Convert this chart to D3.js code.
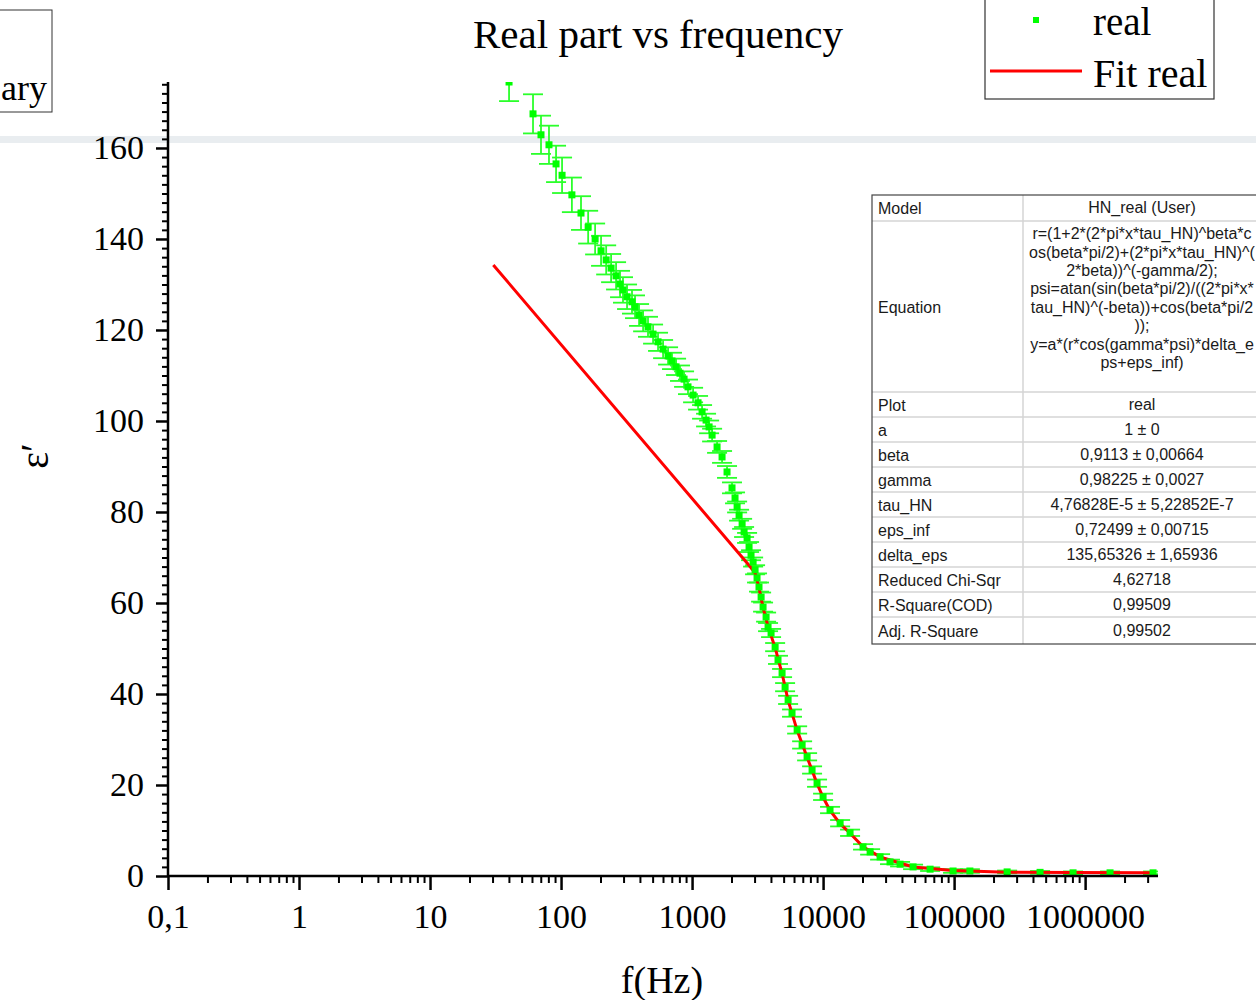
<!DOCTYPE html>
<html>
<head>
<meta charset="utf-8">
<script src="https://cdn.jsdelivr.net/npm/d3@7"></script>
<style>
  body { margin: 0; background: #fff; }
  svg { display: block; }
  .serif { font-family: "Liberation Serif", "Times New Roman", serif; }
  .sans { font-family: "Liberation Sans", Arial, sans-serif; }
</style>
</head>
<body>
<svg id="chart" width="1256" height="1000"></svg>
<script>
// measured data (f in Hz, eps' and its error)
const freqs = [40.1, 61.1, 70.3, 80.9, 91.6, 101.8, 121, 142, 161, 182, 202, 221, 241, 263, 282, 297, 319, 348, 367, 394,
  423, 461, 504, 550, 601, 656, 703, 755, 809, 869, 931, 1018, 1111, 1192, 1279, 1349, 1422, 1552, 1694, 1849,
  2018, 2128, 2207, 2285, 2410, 2495, 2630, 2723, 2819, 2924, 3027, 3133, 3243, 3365, 3483, 3673, 3802, 4009, 4305, 4529,
  4864, 5129, 5408, 5794, 6339, 6918, 7551, 8241, 8995, 10000, 11300, 13490, 16070, 20180, 22860, 27230, 32430, 38700, 48640, 65600,
  98200, 132000, 254000, 453000, 809000, 1550000, 3300000];
const realVals = [174.5, 167.5, 162.9, 160.7, 156.5, 154.0, 149.7, 145.7, 142.6, 140.0, 137.4, 135.4, 133.6, 131.9, 130.1, 128.8, 127.3, 126.2, 125.1, 123.3,
  122.0, 120.7, 119.1, 117.4, 115.8, 114.3, 113.2, 111.9, 110.5, 109.2, 107.5, 105.7, 104.0, 102.0, 100.2, 98.7, 96.9, 94.3, 92.1, 88.8,
  85.3, 83.1, 81.1, 79.3, 77.4, 75.6, 74.3, 72.3, 70.5, 69.0, 67.3, 65.5, 63.5, 61.3, 59.1, 56.9, 54.7, 53.4, 50.3, 47.5,
  44.6, 41.5, 38.7, 35.8, 32.1, 28.8, 26.2, 23.3, 20.4, 17.4, 14.5, 11.6, 9.5, 6.4, 5.3, 4.2, 3.1, 2.6, 2.0, 1.5,
  1.1, 1.1, 0.9, 0.8, 0.7, 0.7, 0.7];
const realErrs = [4.2, 4.3, 4.2, 4.2, 4.0, 3.9, 3.8, 3.7, 3.6, 3.4, 3.3, 3.2, 3.1, 3.0, 2.9, 2.8, 2.7, 2.6, 2.5, 2.4,
  2.3, 2.2, 2.1, 2.0, 2.0, 1.9, 1.8, 1.8, 1.7, 1.7, 1.6, 1.6, 1.5, 1.5, 1.4, 1.4, 1.4, 1.3, 1.3, 1.3,
  1.2, 1.2, 1.2, 1.2, 1.1, 1.1, 1.1, 1.1, 1.1, 1.0, 1.0, 1.0, 1.0, 1.0, 1.0, 1.0, 0.9, 0.9, 0.9, 0.9,
  0.9, 0.9, 0.9, 0.8, 0.8, 0.8, 0.8, 0.8, 0.8, 0.7, 0.7, 0.7, 0.7, 0.6, 0.6, 0.6, 0.5, 0.5, 0.5, 0.4,
  0.4, 0.4, 0.3, 0.3, 0.3, 0.3, 0.3];

// fit curve as drawn
const fitFreqs = [30.4, 2790, 3027, 3243, 3483, 3802, 4305, 4864, 5408, 6339, 7551, 8995, 10000, 11300, 13490, 16070,
  20180, 27230, 48640, 98200, 254000, 809000, 3300000];
const fitVals = [134.3, 67.9, 66.6, 63.3, 59.0, 54.8, 50.2, 44.5, 38.6, 32.0, 26.1, 20.3, 17.3, 14.4, 11.5, 9.4,
  6.4, 4.2, 2.0, 1.2, 0.85, 0.75, 0.73];

const xMajorTicks = [0.1, 1, 10, 100, 1000, 10000, 100000, 1000000];
const yMajorTicks = [0, 20, 40, 60, 80, 100, 120, 140, 160];

const tableRows = [
  ['Model', ['HN_real (User)']],
  ['Equation', ['r=(1+2*(2*pi*x*tau_HN)^beta*c', 'os(beta*pi/2)+(2*pi*x*tau_HN)^(', '2*beta))^(-gamma/2);',
    'psi=atan(sin(beta*pi/2)/((2*pi*x*', 'tau_HN)^(-beta))+cos(beta*pi/2', '));',
    'y=a*(r*cos(gamma*psi)*delta_e', 'ps+eps_inf)']],
  ['Plot', ['real']],
  ['a', ['1 ± 0']],
  ['beta', ['0,9113 ± 0,00664']],
  ['gamma', ['0,98225 ± 0,0027']],
  ['tau_HN', ['4,76828E-5 ± 5,22852E-7']],
  ['eps_inf', ['0,72499 ± 0,00715']],
  ['delta_eps', ['135,65326 ± 1,65936']],
  ['Reduced Chi-Sqr', ['4,62718']],
  ['R-Square(COD)', ['0,99509']],
  ['Adj. R-Square', ['0,99502']]
];

const svg = d3.select('#chart');
const green = '#00ff00';

const x = d3.scaleLog().domain([0.1, 3.6e6]).range([168, 1158]);
const y = d3.scaleLinear().domain([0, 174.5]).range([876, 82]);

// grey strip across the page
svg.append('rect').attr('x', 0).attr('y', 136).attr('width', 1256).attr('height', 7).attr('fill', '#e9edf0');

// clipping for data
svg.append('clipPath').attr('id', 'plotClip')
  .append('rect').attr('x', 168).attr('y', 82).attr('width', 1158 - 168).attr('height', 876 - 82);

const data = freqs.map((f, i) => ({ f, v: realVals[i], e: realErrs[i] }));
const plot = svg.append('g').attr('clip-path', 'url(#plotClip)');

// error bars
const cap = 10;
const eb = plot.append('g').attr('stroke', '#2bff2b').attr('stroke-width', 1.8).attr('fill', 'none');
data.forEach(d => {
  const cx = x(d.f), y1 = y(d.v + d.e), y2 = y(d.v - d.e);
  eb.append('line').attr('x1', cx).attr('x2', cx).attr('y1', y1).attr('y2', y2);
  eb.append('line').attr('x1', cx - cap).attr('x2', cx + cap).attr('y1', y1).attr('y2', y1);
  eb.append('line').attr('x1', cx - cap).attr('x2', cx + cap).attr('y1', y2).attr('y2', y2);
});

// fit line
const fitData = fitFreqs.map((f, i) => ({ f, v: fitVals[i] }));
plot.append('path')
  .datum(fitData)
  .attr('fill', 'none')
  .attr('stroke', '#ff0000')
  .attr('stroke-width', 3)
  .attr('d', d3.line().x(d => x(d.f)).y(d => y(d.v)));

// markers
plot.append('g').selectAll('rect').data(data).join('rect')
  .attr('x', d => x(d.f) - 3.5).attr('y', d => y(d.v) - 3.5)
  .attr('width', 7).attr('height', 7)
  .attr('fill', green);

// x axis
const minorX = [];
for (let p = -1; p <= 6; p++) {
  for (let k = 2; k <= 9; k++) {
    const v = k * Math.pow(10, p);
    if (v < 3.6e6) minorX.push(v);
  }
}
const xAxisMinor = svg.append('g').attr('transform', 'translate(0,876)')
  .call(d3.axisBottom(x).tickValues(minorX).tickSize(7).tickFormat('').tickSizeOuter(0));
xAxisMinor.select('.domain').remove();
xAxisMinor.selectAll('line').attr('stroke-width', 2);

const xAxis = svg.append('g').attr('transform', 'translate(0,876)')
  .call(d3.axisBottom(x).tickValues(xMajorTicks).tickSize(14).tickSizeOuter(0)
    .tickFormat(d => d < 1 ? String(d).replace('.', ',') : String(d)));
xAxis.select('.domain').attr('stroke-width', 2.5).attr('d', 'M168,0H1158');
xAxis.selectAll('line').attr('stroke-width', 2.5);
xAxis.selectAll('text').attr('class', 'serif').attr('font-size', 34).attr('fill', '#000').attr('y', 28);

// y axis
const minorY = d3.range(2, 175, 2).filter(v => v % 20 !== 0);
const yAxisMinor = svg.append('g').attr('transform', 'translate(168,0)')
  .call(d3.axisLeft(y).tickValues(minorY).tickSize(6).tickFormat('').tickSizeOuter(0));
yAxisMinor.select('.domain').remove();
yAxisMinor.selectAll('line').attr('stroke-width', 2);

const yAxis = svg.append('g').attr('transform', 'translate(168,0)')
  .call(d3.axisLeft(y).tickValues(yMajorTicks).tickSize(12).tickSizeOuter(0));
yAxis.select('.domain').attr('stroke-width', 2.5).attr('d', 'M0,876V82');
yAxis.selectAll('line').attr('stroke-width', 2.5);
yAxis.selectAll('text').attr('class', 'serif').attr('font-size', 34).attr('fill', '#000').attr('x', -24);

// titles
svg.append('text').attr('class', 'serif').attr('x', 658).attr('y', 48)
  .attr('text-anchor', 'middle').attr('font-size', 41).text('Real part vs frequency');
svg.append('text').attr('class', 'serif').attr('x', 662).attr('y', 993)
  .attr('text-anchor', 'middle').attr('font-size', 38).text('f(Hz)');
svg.append('text').attr('class', 'serif')
  .attr('transform', 'translate(48,456) rotate(-90)')
  .attr('text-anchor', 'middle').attr('font-size', 40).text('ε′');

// left partial legend (only its tail is on the page)
svg.append('rect').attr('x', -2).attr('y', 10).attr('width', 54).attr('height', 102)
  .attr('fill', '#fff').attr('stroke', '#333').attr('stroke-width', 1);
svg.append('text').attr('class', 'serif').attr('x', 47).attr('y', 100)
  .attr('text-anchor', 'end').attr('font-size', 36).text('ary');

// right legend
const lg = svg.append('g');
lg.append('rect').attr('x', 985).attr('y', -2).attr('width', 229).attr('height', 101)
  .attr('fill', '#fff').attr('stroke', '#333').attr('stroke-width', 1.2);
lg.append('rect').attr('x', 1033).attr('y', 17).attr('width', 6).attr('height', 6).attr('fill', green);
lg.append('text').attr('class', 'serif').attr('x', 1093).attr('y', 35).attr('font-size', 39).text('real');
lg.append('line').attr('x1', 990).attr('x2', 1082).attr('y1', 71).attr('y2', 71)
  .attr('stroke', '#ff0000').attr('stroke-width', 3);
lg.append('text').attr('class', 'serif').attr('x', 1093).attr('y', 87).attr('font-size', 40).text('Fit real');

// fit results table
const tbl = svg.append('g').attr('class', 'sans');
const tx0 = 872, tx1 = 1023, tx2 = 1262;
const rowH = tableRows.map(r => r[0] === 'Equation' ? 171 : 25);
rowH[0] = 26; rowH[rowH.length - 1] = 27;
let ty = 195;
tbl.append('rect').attr('x', tx0).attr('y', ty).attr('width', tx2 - tx0)
  .attr('height', d3.sum(rowH)).attr('fill', '#fff');
tableRows.forEach((r, i) => {
  const h = rowH[i];
  if (i > 0) {
    tbl.append('line').attr('x1', tx0).attr('x2', tx2).attr('y1', ty).attr('y2', ty)
      .attr('stroke', '#d4d4d4').attr('stroke-width', 1.5);
  }
  tbl.append('text').attr('x', tx0 + 6).attr('y', ty + h / 2 + 6)
    .attr('font-size', 16).attr('fill', '#1a1a1a').text(r[0]);
  const lines = r[1];
  const lh = 18.4;
  const start = ty + h / 2 - (lines.length - 1) * lh / 2 + 5 - (lines.length > 1 ? 8 : 0);
  lines.forEach((t, j) => {
    tbl.append('text').attr('x', 1142).attr('y', start + j * lh)
      .attr('text-anchor', 'middle').attr('font-size', 16).attr('fill', '#1a1a1a').text(t);
  });
  ty += h;
});
tbl.append('line').attr('x1', tx1).attr('x2', tx1).attr('y1', 195).attr('y2', ty)
  .attr('stroke', '#d4d4d4').attr('stroke-width', 1.5);
tbl.append('rect').attr('x', tx0).attr('y', 195).attr('width', tx2 - tx0).attr('height', ty - 195)
  .attr('fill', 'none').attr('stroke', '#444').attr('stroke-width', 1.2);
</script>
</body>
</html>
